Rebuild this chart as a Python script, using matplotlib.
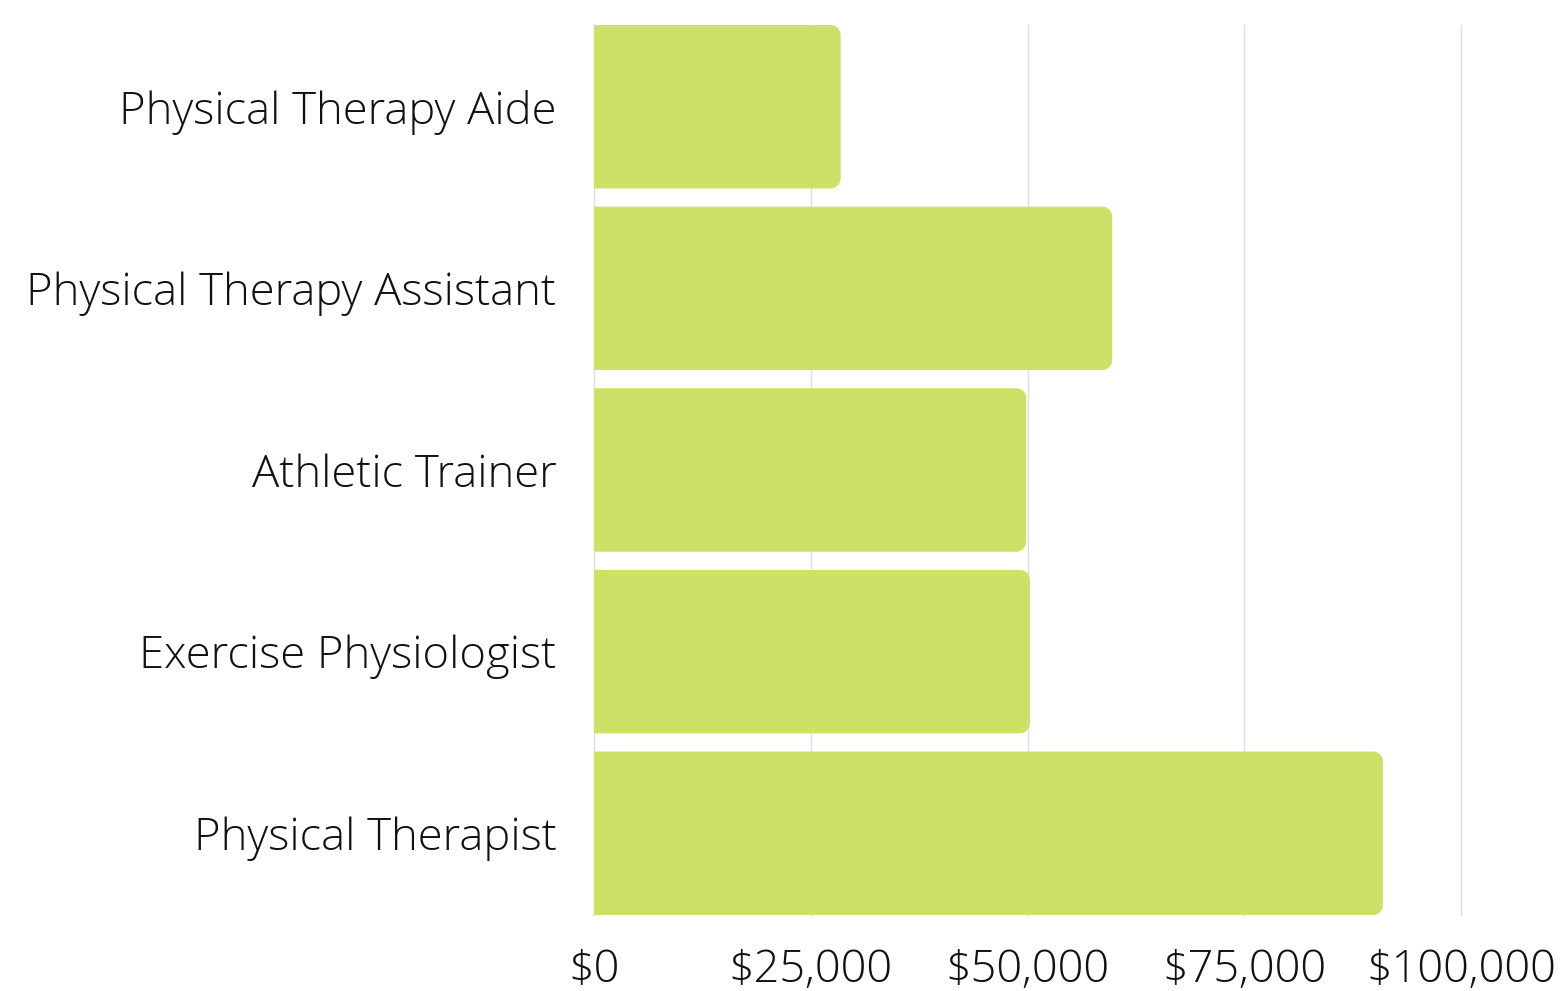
import matplotlib
matplotlib.use("Agg")
import matplotlib.pyplot as plt
from matplotlib.path import Path
from matplotlib.patches import PathPatch
from matplotlib.ticker import FuncFormatter

# ---- data ----
jobs = ["Physical Therapy Aide", "Physical Therapy Assistant", "Athletic Trainer",
        "Exercise Physiologist", "Physical Therapist"]
salaries = [28450, 59770, 49860, 50280, 91010]
ticks = [0, 25000, 50000, 75000, 100000]

BAR = "#cbe267"
W, H, DPI = 1562, 991, 100
plt.rcParams["font.family"] = ["Open Sans", "DejaVu Sans"]

fig = plt.figure(figsize=(W / DPI, H / DPI), dpi=DPI)
ax = fig.add_axes([594 / W, 1 - 915 / H, (1461 - 594) / W, (915 - 25) / H])

y = list(range(len(jobs)))
bars = ax.barh(y, salaries, height=0.9, color=BAR, zorder=2)
ax.set_xlim(0, 100000)
ax.set_ylim(len(jobs) - 0.55, -0.45)

# swap plain bars for ones with rounded right ends
fig.canvas.draw()
px_x = ax.bbox.width / 100000
px_y = ax.bbox.height / len(jobs)
r = 10
for b in bars:
    x0, y0, w, h = b.get_x(), b.get_y(), b.get_width(), b.get_height()
    rx, ry = r / px_x, r / px_y
    x1, y1 = x0 + w, y0 + h
    k = 0.5523
    verts = [(x0, y0), (x1 - rx, y0),
             (x1 - rx + k * rx, y0), (x1, y0 + ry - k * ry), (x1, y0 + ry),
             (x1, y1 - ry),
             (x1, y1 - ry + k * ry), (x1 - rx + k * rx, y1), (x1 - rx, y1),
             (x0, y1), (x0, y0)]
    codes = [Path.MOVETO, Path.LINETO,
             Path.CURVE4, Path.CURVE4, Path.CURVE4,
             Path.LINETO,
             Path.CURVE4, Path.CURVE4, Path.CURVE4,
             Path.LINETO, Path.CLOSEPOLY]
    ax.add_patch(PathPatch(Path(verts, codes), facecolor=BAR, edgecolor="none", zorder=2))
    b.set_visible(False)

ax.set_xticks(ticks)
ax.xaxis.set_major_formatter(FuncFormatter(lambda v, p: f"${v:,.0f}"))
ax.set_yticks(y)
ax.set_yticklabels(jobs)
ax.tick_params(axis="both", length=0, colors="#111111")
ax.tick_params(axis="x", pad=24, labelsize=32.5)
ax.tick_params(axis="y", pad=27, labelsize=32.7)
for lab in ax.get_xticklabels() + ax.get_yticklabels():
    lab.set_fontweight("light")

# vertical gridlines, drawn unclipped so the one at $100,000 shows in full
for t in ticks:
    ax.axvline(t, color="#dddddd", linewidth=1, zorder=0, clip_on=False)
for s in ax.spines.values():
    s.set_visible(False)

fig.savefig("out.png", dpi=DPI)
